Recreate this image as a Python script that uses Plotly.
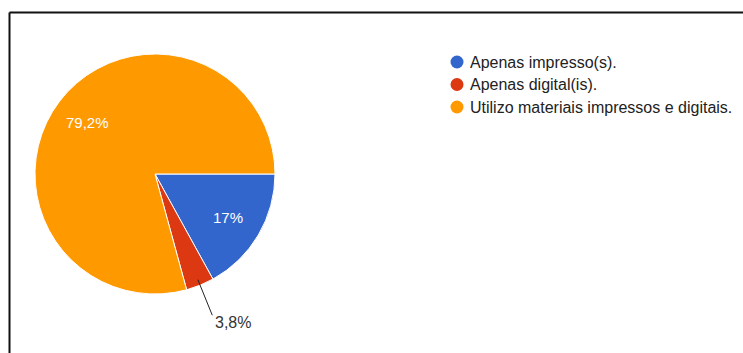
import math
import plotly.graph_objects as go

# Survey answers (53 responses)
labels = ["Apenas impresso(s).", "Apenas digital(is).", "Utilizo materiais impressos e digitais."]
counts = [9, 2, 42]
colors = ["#3366CC", "#DC3912", "#FF9900"]

W, H = 743, 353
total = sum(counts)
FONT = "Liberation Sans, Arial"


def pct_text(v):
    p = round(100 * v / total, 1)
    s = ("%.1f" % p).rstrip("0").rstrip(".")
    return s.replace(".", ",") + "%"


pct = [pct_text(v) for v in counts]

# pie geometry in pixels
cx, cy, R = 155, 174, 120


def px(x):
    return x / W


def py(y):
    return 1 - y / H


fig = go.Figure()
fig.add_trace(go.Pie(
    labels=labels,
    values=counts,
    textinfo="none",
    marker=dict(colors=colors, line=dict(color="white", width=1)),
    sort=False,
    direction="clockwise",
    rotation=90,
    showlegend=False,
    domain=dict(x=[px(cx - R), px(cx + R)], y=[py(cy + R), py(cy - R)]),
))

shapes = []
annotations = []

# frame: top and left edges
shapes.append(dict(type="line", xref="paper", yref="paper",
                   x0=px(9.5), y0=0, x1=px(9.5), y1=py(12.5),
                   line=dict(color="#111", width=2)))
shapes.append(dict(type="line", xref="paper", yref="paper",
                   x0=px(9.5), y0=py(12.5), x1=1, y1=py(12.5),
                   line=dict(color="#111", width=2)))

# slice labels: large slices inside, the small one outside with a leader line
outside = [False, True, False]
for i, v in enumerate(counts):
    mid = 360 * (sum(counts[:i]) + v / 2) / total
    a = math.radians(mid)
    if outside[i]:
        x0, y0 = cx + 0.95 * R * math.cos(a), cy + 0.95 * R * math.sin(a)
        x1, y1 = cx + 1.27 * R * math.cos(a), cy + 1.27 * R * math.sin(a)
        shapes.append(dict(type="line", xref="paper", yref="paper",
                           x0=px(x0), y0=py(y0), x1=px(x1), y1=py(y1),
                           line=dict(color="#222", width=1)))
        annotations.append(dict(xref="paper", yref="paper", x=px(x1 + 1), y=py(y1 + 7),
                                text=pct[i], showarrow=False, xanchor="left", yanchor="middle",
                                font=dict(family=FONT, size=16, color="#333")))
    else:
        rr = 0.71 * R
        annotations.append(dict(xref="paper", yref="paper",
                                x=px(cx + rr * math.cos(a)), y=py(cy + rr * math.sin(a)),
                                text=pct[i], showarrow=False, xanchor="center", yanchor="middle",
                                font=dict(family=FONT, size=15, color="white")))

# legend rows with round keys
lx, ly0, step = 457, 62, 22.5
for i, (lab, col) in enumerate(zip(labels, colors)):
    yy = ly0 + i * step
    shapes.append(dict(type="circle", xref="paper", yref="paper",
                       xsizemode="pixel", ysizemode="pixel",
                       xanchor=px(lx), yanchor=py(yy),
                       x0=-6.5, x1=6.5, y0=-6.5, y1=6.5,
                       fillcolor=col, line=dict(width=0)))
    annotations.append(dict(xref="paper", yref="paper", x=px(lx + 11), y=py(yy),
                            text=lab, showarrow=False, xanchor="left", yanchor="middle",
                            font=dict(family=FONT, size=16, color="#222")))

fig.update_layout(
    width=W, height=H,
    margin=dict(l=0, r=0, t=0, b=0),
    paper_bgcolor="white",
    plot_bgcolor="white",
    shapes=shapes,
    annotations=annotations,
)

fig.write_html("out.html")
